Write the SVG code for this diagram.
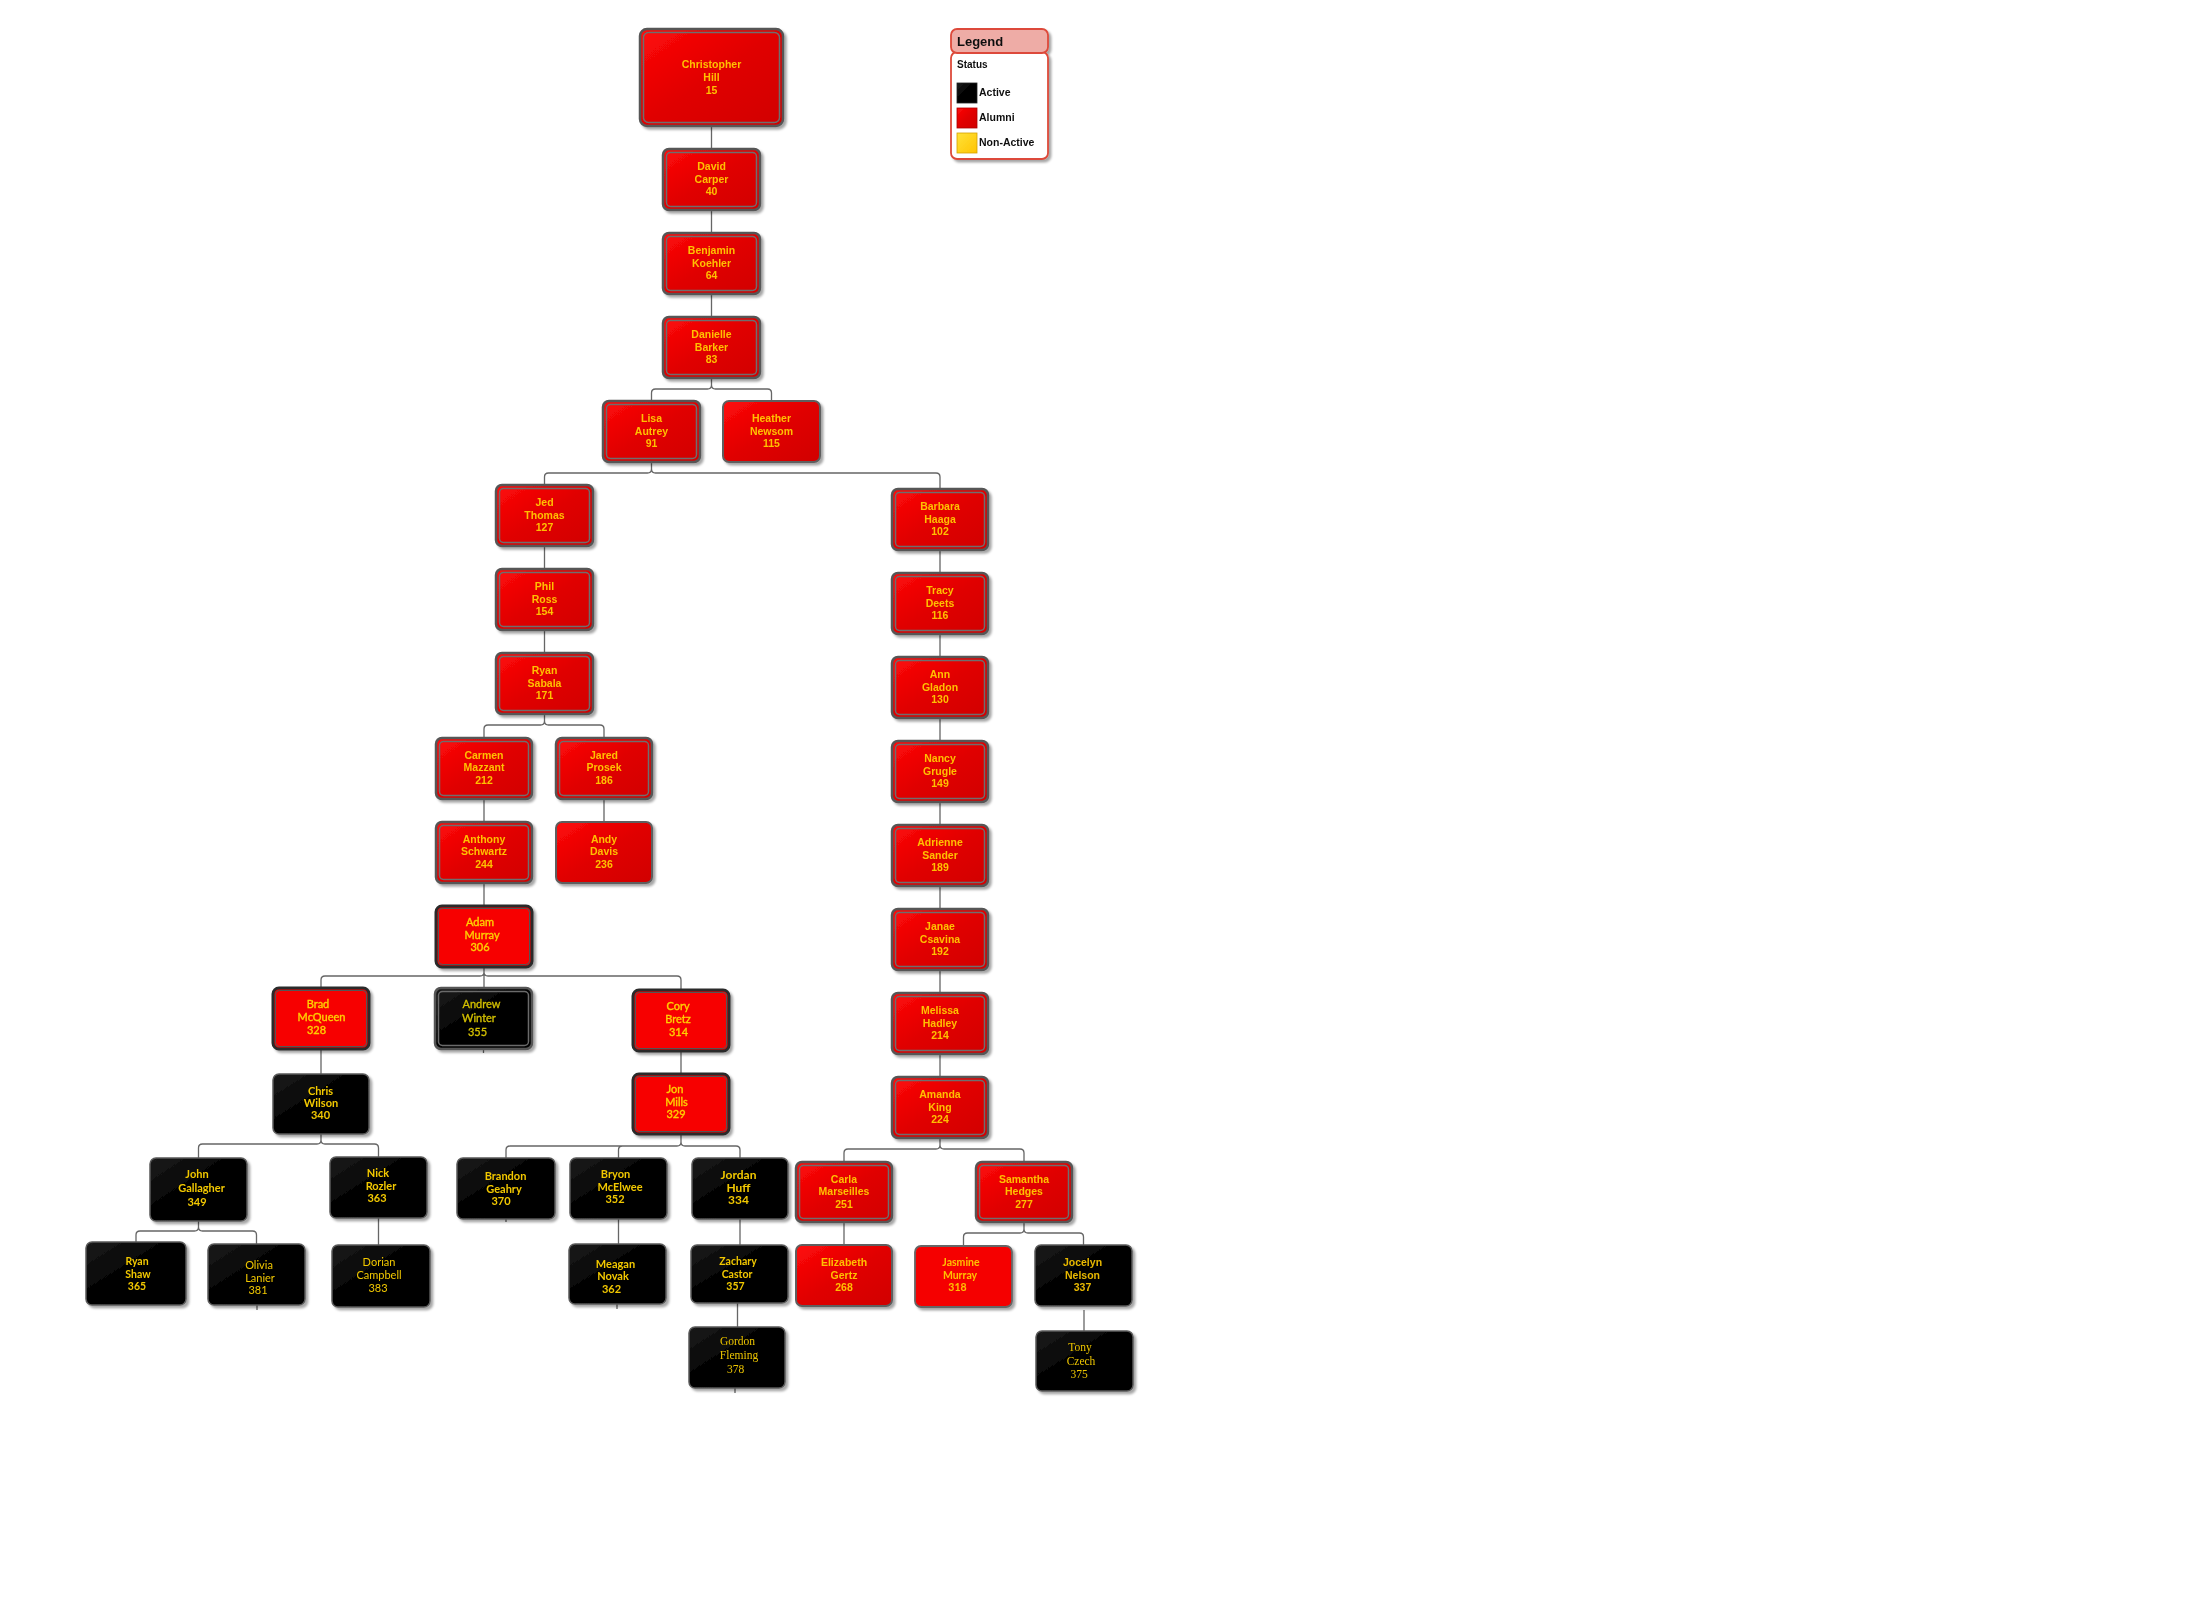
<svg xmlns="http://www.w3.org/2000/svg" width="2204" height="1602" viewBox="0 0 2204 1602">
<defs>
<linearGradient id="rg" x1="0" y1="0" x2="1" y2="1"><stop offset="0" stop-color="#ff0a0a"/><stop offset="0.5" stop-color="#e00000"/><stop offset="1" stop-color="#d10000"/></linearGradient>
<linearGradient id="bg" x1="0" y1="0" x2="1" y2="1"><stop offset="0" stop-color="#1c1c1c"/><stop offset="0.4" stop-color="#050505"/><stop offset="1" stop-color="#000"/></linearGradient>
<linearGradient id="yg" x1="0" y1="0" x2="1" y2="1"><stop offset="0" stop-color="#ffe23a"/><stop offset="1" stop-color="#ffc400"/></linearGradient>
<filter id="sh" x="-10%" y="-10%" width="130%" height="130%"><feDropShadow dx="2.5" dy="2.5" stdDeviation="1.3" flood-color="#000" flood-opacity="0.35"/></filter>
</defs>
<style>
.node{filter:url(#sh)}
.ra{fill:url(#rg);stroke:#575757;stroke-width:2.5}
.rs{fill:url(#rg);stroke:#5e5e5e;stroke-width:2}
.ri{fill:none;stroke:#6e6e6e;stroke-width:1.5}
.fr{fill:#f70404;stroke:#2a2a2a;stroke-width:3}
.fri{fill:none;stroke:#555;stroke-width:1}
.jr{fill:#f50606;stroke:#666;stroke-width:1.8}
.bk{fill:url(#bg);stroke:#5a5a5a;stroke-width:1.5}
.bki{fill:none;stroke:#6a6a6a;stroke-width:1.5}
.t{font-family:"Liberation Sans",Arial,sans-serif;font-size:10.5px;font-weight:bold;fill:#ffc000;text-anchor:middle}
.c{font-family:Lato,"Liberation Sans",sans-serif;font-size:11px;fill:#f2c800;text-anchor:middle}
.cm{fill:#ffd000;stroke:#ffd000;stroke-width:0.35}
.cb{font-weight:bold}
.s{font-family:"Liberation Serif","Times New Roman",serif;font-size:11.5px;fill:#ecc400;text-anchor:middle}
.lg{font-family:"Liberation Sans",Arial,sans-serif;font-weight:bold;fill:#111}
#connectors path{fill:none;stroke:#666;stroke-width:1.3}
</style>
<rect x="0" y="0" width="2204" height="1602" fill="#fff"/>

<g id="connectors">
<path d="M711.5,126 V149 M711.5,210 V233 M711.5,294 V317"/>
<path d="M711.5,378 V385 Q711.5,389 707.5,389 H655.5 Q651.5,389 651.5,393 V401 M711.5,385 Q711.5,389 715.5,389 H767.5 Q771.5,389 771.5,393 V401"/>
<path d="M651.5,462 V469 Q651.5,473 647.5,473 H548.5 Q544.5,473 544.5,477 V485 M651.5,469 Q651.5,473 655.5,473 H936 Q940,473 940,477 V489"/>
<path d="M544.5,546 V569 M544.5,630 V653"/>
<path d="M544.5,714 V721 Q544.5,725 540.5,725 H488 Q484,725 484,729 V738 M544.5,721 Q544.5,725 548.5,725 H600 Q604,725 604,729 V738"/>
<path d="M484,799 V822 M484,883 V906 M604,799 V822"/>
<path d="M484,967 V988 M484,972 Q484,976 480,976 H325 Q321,976 321,980 V988 M484,972 Q484,976 488,976 H677 Q681,976 681,980 V990"/>
<path d="M321,1049 V1074 M681,1051 V1074 M483.5,1049 V1053"/>
<path d="M321,1134 V1140 Q321,1144 317,1144 H202.5 Q198.5,1144 198.5,1148 V1158 M321,1140 Q321,1144 325,1144 H374.5 Q378.5,1144 378.5,1148 V1157"/>
<path d="M681,1134 V1142 Q681,1146 677,1146 H510 Q506,1146 506,1150 V1158 M622.5,1146 Q618.5,1146 618.5,1150 V1158 M681,1142 Q681,1146 685,1146 H736 Q740,1146 740,1150 V1158"/>
<path d="M198.5,1221 V1227 Q198.5,1231 194.5,1231 H140 Q136,1231 136,1235 V1242 M198.5,1227 Q198.5,1231 202.5,1231 H252.5 Q256.5,1231 256.5,1235 V1244"/>
<path d="M378.5,1218 V1245 M618.5,1219 V1244 M740,1219 V1245 M737.5,1303 V1327"/>
<path d="M506,1219 V1222 M257,1305 V1310 M617,1304 V1309 M735,1388 V1393"/>
<path d="M940,550 V573 M940,634 V657 M940,718 V741 M940,802 V825 M940,886 V909 M940,970 V993 M940,1054 V1077"/>
<path d="M940,1138 V1145 Q940,1149 936,1149 H848 Q844,1149 844,1153 V1162 M940,1145 Q940,1149 944,1149 H1020 Q1024,1149 1024,1153 V1162"/>
<path d="M844,1222 V1245"/>
<path d="M1024,1222 V1229 Q1024,1233 1020,1233 H967.5 Q963.5,1233 963.5,1237 V1246 M1024,1229 Q1024,1233 1028,1233 H1079.5 Q1083.5,1233 1083.5,1237 V1245"/>
<path d="M1084,1310 V1331"/>
</g>

<g id="n-christopher-hill" class="node"><rect class="ra" x="640" y="29" width="143" height="97" rx="7"/><rect class="ri" x="643.5" y="32.5" width="136" height="90" rx="5"/>
<text class="t"><tspan x="711.5" y="68">Christopher</tspan><tspan x="711.5" y="81">Hill</tspan><tspan x="711.5" y="94">15</tspan></text></g>

<g id="n-david-carper" class="node"><rect class="ra" x="663" y="149" width="97" height="61" rx="6"/><rect class="ri" x="666.5" y="152.5" width="90" height="54" rx="4"/>
<text class="t"><tspan x="711.5" y="170">David</tspan><tspan x="711.5" y="182.5">Carper</tspan><tspan x="711.5" y="195">40</tspan></text></g>

<g id="n-benjamin-koehler" class="node"><rect class="ra" x="663" y="233" width="97" height="61" rx="6"/><rect class="ri" x="666.5" y="236.5" width="90" height="54" rx="4"/>
<text class="t"><tspan x="711.5" y="254">Benjamin</tspan><tspan x="711.5" y="266.5">Koehler</tspan><tspan x="711.5" y="279">64</tspan></text></g>

<g id="n-danielle-barker" class="node"><rect class="ra" x="663" y="317" width="97" height="61" rx="6"/><rect class="ri" x="666.5" y="320.5" width="90" height="54" rx="4"/>
<text class="t"><tspan x="711.5" y="338">Danielle</tspan><tspan x="711.5" y="350.5">Barker</tspan><tspan x="711.5" y="363">83</tspan></text></g>

<g id="n-lisa-autrey" class="node"><rect class="ra" x="603" y="401" width="97" height="61" rx="6"/><rect class="ri" x="606.5" y="404.5" width="90" height="54" rx="4"/>
<text class="t"><tspan x="651.5" y="422">Lisa</tspan><tspan x="651.5" y="434.5">Autrey</tspan><tspan x="651.5" y="447">91</tspan></text></g>

<g id="n-heather-newsom" class="node"><rect class="rs" x="723" y="401" width="97" height="61" rx="6"/>
<text class="t"><tspan x="771.5" y="422">Heather</tspan><tspan x="771.5" y="434.5">Newsom</tspan><tspan x="771.5" y="447">115</tspan></text></g>

<g id="n-jed-thomas" class="node"><rect class="ra" x="496" y="485" width="97" height="61" rx="6"/><rect class="ri" x="499.5" y="488.5" width="90" height="54" rx="4"/>
<text class="t"><tspan x="544.5" y="506">Jed</tspan><tspan x="544.5" y="518.5">Thomas</tspan><tspan x="544.5" y="531">127</tspan></text></g>

<g id="n-phil-ross" class="node"><rect class="ra" x="496" y="569" width="97" height="61" rx="6"/><rect class="ri" x="499.5" y="572.5" width="90" height="54" rx="4"/>
<text class="t"><tspan x="544.5" y="590">Phil</tspan><tspan x="544.5" y="602.5">Ross</tspan><tspan x="544.5" y="615">154</tspan></text></g>

<g id="n-ryan-sabala" class="node"><rect class="ra" x="496" y="653" width="97" height="61" rx="6"/><rect class="ri" x="499.5" y="656.5" width="90" height="54" rx="4"/>
<text class="t"><tspan x="544.5" y="674">Ryan</tspan><tspan x="544.5" y="686.5">Sabala</tspan><tspan x="544.5" y="699">171</tspan></text></g>

<g id="n-carmen-mazzant" class="node"><rect class="ra" x="436" y="738" width="96" height="61" rx="6"/><rect class="ri" x="439.5" y="741.5" width="89" height="54" rx="4"/>
<text class="t"><tspan x="484" y="758.5">Carmen</tspan><tspan x="484" y="771">Mazzant</tspan><tspan x="484" y="783.5">212</tspan></text></g>

<g id="n-jared-prosek" class="node"><rect class="ra" x="556" y="738" width="96" height="61" rx="6"/><rect class="ri" x="559.5" y="741.5" width="89" height="54" rx="4"/>
<text class="t"><tspan x="604" y="758.5">Jared</tspan><tspan x="604" y="771">Prosek</tspan><tspan x="604" y="783.5">186</tspan></text></g>

<g id="n-anthony-schwartz" class="node"><rect class="ra" x="436" y="822" width="96" height="61" rx="6"/><rect class="ri" x="439.5" y="825.5" width="89" height="54" rx="4"/>
<text class="t"><tspan x="484" y="842.5">Anthony</tspan><tspan x="484" y="855">Schwartz</tspan><tspan x="484" y="867.5">244</tspan></text></g>

<g id="n-andy-davis" class="node"><rect class="rs" x="556" y="822" width="96" height="61" rx="6"/>
<text class="t"><tspan x="604" y="842.5">Andy</tspan><tspan x="604" y="855">Davis</tspan><tspan x="604" y="867.5">236</tspan></text></g>

<g id="n-adam-murray" class="node"><rect class="fr" x="436" y="906" width="96" height="61" rx="6"/><rect class="fri" x="438.5" y="908.5" width="91" height="56" rx="4"/>
<text class="c cm"><tspan x="480" y="925.5">Adam</tspan><tspan x="482" y="938.5">Murray</tspan><tspan x="480" y="951">306</tspan></text></g>

<g id="n-brad-mcqueen" class="node"><rect class="fr" x="273" y="988" width="96" height="61" rx="6"/><rect class="fri" x="275.5" y="990.5" width="91" height="56" rx="4"/>
<text class="c cm"><tspan x="318" y="1007.5">Brad</tspan><tspan x="321.5" y="1020.5">McQueen</tspan><tspan x="316.5" y="1033.5">328</tspan></text></g>

<g id="n-andrew-winter" class="node"><rect class="bk" x="435" y="988" width="97" height="61" rx="6" style="stroke:#555;stroke-width:2.5"/><rect class="bki" x="438.5" y="991.5" width="90" height="54" rx="4"/>
<text class="c" style="fill:#d4c000;stroke:#d4c000;stroke-width:0.3"><tspan x="481.5" y="1008">Andrew</tspan><tspan x="479" y="1021.5">Winter</tspan><tspan x="477.5" y="1035.5">355</tspan></text></g>

<g id="n-cory-bretz" class="node"><rect class="fr" x="633" y="990" width="96" height="61" rx="6"/><rect class="fri" x="635.5" y="992.5" width="91" height="56" rx="4"/>
<text class="c cm"><tspan x="678" y="1009.5">Cory</tspan><tspan x="678" y="1022.5">Bretz</tspan><tspan x="678.5" y="1035.5">314</tspan></text></g>

<g id="n-chris-wilson" class="node"><rect class="bk" x="273" y="1074" width="96" height="60" rx="6"/>
<text class="c cb"><tspan x="320.5" y="1094.5">Chris</tspan><tspan x="321" y="1107">Wilson</tspan><tspan x="320.5" y="1119">340</tspan></text></g>

<g id="n-jon-mills" class="node"><rect class="fr" x="633" y="1074" width="96" height="60" rx="6"/><rect class="fri" x="635.5" y="1076.5" width="91" height="55" rx="4"/>
<text class="c cm"><tspan x="675" y="1092.5">Jon</tspan><tspan x="676.5" y="1105.5">Mills</tspan><tspan x="676" y="1118">329</tspan></text></g>

<g id="n-john-gallagher" class="node"><rect class="bk" x="150" y="1158" width="97" height="63" rx="6"/>
<text class="c cb"><tspan x="197" y="1178">John</tspan><tspan x="201.5" y="1192">Gallagher</tspan><tspan x="197" y="1206">349</tspan></text></g>

<g id="n-nick-rozler" class="node"><rect class="bk" x="330" y="1157" width="97" height="61" rx="6"/>
<text class="c cb"><tspan x="378" y="1177">Nick</tspan><tspan x="381" y="1190">Rozler</tspan><tspan x="377" y="1202">363</tspan></text></g>

<g id="n-brandon-geahry" class="node"><rect class="bk" x="457" y="1158" width="98" height="61" rx="6"/>
<text class="c cb"><tspan x="505.5" y="1180">Brandon</tspan><tspan x="504" y="1193">Geahry</tspan><tspan x="501" y="1205">370</tspan></text></g>

<g id="n-bryon-mcelwee" class="node"><rect class="bk" x="570" y="1158" width="97" height="61" rx="6"/>
<text class="c cb"><tspan x="615.5" y="1178">Bryon</tspan><tspan x="620" y="1191">McElwee</tspan><tspan x="615" y="1203">352</tspan></text></g>

<g id="n-jordan-huff" class="node"><rect class="bk" x="692" y="1158" width="96" height="61" rx="6"/>
<text class="c cb" style="font-size:12px"><tspan x="738.5" y="1179">Jordan</tspan><tspan x="738.5" y="1191.5">Huff</tspan><tspan x="738.5" y="1204">334</tspan></text></g>

<g id="n-ryan-shaw" class="node"><rect class="bk" x="86" y="1242" width="100" height="63" rx="6"/>
<text class="c cb" style="font-size:10.5px"><tspan x="137" y="1265">Ryan</tspan><tspan x="138" y="1278">Shaw</tspan><tspan x="137" y="1290">365</tspan></text></g>

<g id="n-olivia-lanier" class="node"><rect class="bk" x="208" y="1244" width="97" height="61" rx="6"/>
<text class="c"><tspan x="259" y="1269">Olivia</tspan><tspan x="260" y="1282">Lanier</tspan><tspan x="258" y="1294">381</tspan></text></g>

<g id="n-dorian-campbell" class="node"><rect class="bk" x="332" y="1245" width="98" height="62" rx="6"/>
<text class="c"><tspan x="379" y="1266">Dorian</tspan><tspan x="379" y="1279">Campbell</tspan><tspan x="378" y="1292">383</tspan></text></g>

<g id="n-meagan-novak" class="node"><rect class="bk" x="569" y="1244" width="97" height="60" rx="6"/>
<text class="c cb"><tspan x="615.5" y="1268">Meagan</tspan><tspan x="613" y="1280">Novak</tspan><tspan x="611.5" y="1293">362</tspan></text></g>

<g id="n-zachary-castor" class="node"><rect class="bk" x="691" y="1245" width="97" height="58" rx="6"/>
<text class="c cb" style="font-size:10.5px"><tspan x="738" y="1265">Zachary</tspan><tspan x="737" y="1278">Castor</tspan><tspan x="735.5" y="1290">357</tspan></text></g>

<g id="n-gordon-fleming" class="node"><rect class="bk" x="689" y="1327" width="96" height="61" rx="6"/>
<text class="s"><tspan x="737.5" y="1345">Gordon</tspan><tspan x="739" y="1359">Fleming</tspan><tspan x="735.5" y="1373">378</tspan></text></g>

<g id="n-barbara-haaga" class="node"><rect class="ra" x="892" y="489" width="96" height="61" rx="6"/><rect class="ri" x="895.5" y="492.5" width="89" height="54" rx="4"/>
<text class="t"><tspan x="940" y="510">Barbara</tspan><tspan x="940" y="522.5">Haaga</tspan><tspan x="940" y="535">102</tspan></text></g>

<g id="n-tracy-deets" class="node"><rect class="ra" x="892" y="573" width="96" height="61" rx="6"/><rect class="ri" x="895.5" y="576.5" width="89" height="54" rx="4"/>
<text class="t"><tspan x="940" y="594">Tracy</tspan><tspan x="940" y="606.5">Deets</tspan><tspan x="940" y="619">116</tspan></text></g>

<g id="n-ann-gladon" class="node"><rect class="ra" x="892" y="657" width="96" height="61" rx="6"/><rect class="ri" x="895.5" y="660.5" width="89" height="54" rx="4"/>
<text class="t"><tspan x="940" y="678">Ann</tspan><tspan x="940" y="690.5">Gladon</tspan><tspan x="940" y="703">130</tspan></text></g>

<g id="n-nancy-grugle" class="node"><rect class="ra" x="892" y="741" width="96" height="61" rx="6"/><rect class="ri" x="895.5" y="744.5" width="89" height="54" rx="4"/>
<text class="t"><tspan x="940" y="762">Nancy</tspan><tspan x="940" y="774.5">Grugle</tspan><tspan x="940" y="787">149</tspan></text></g>

<g id="n-adrienne-sander" class="node"><rect class="ra" x="892" y="825" width="96" height="61" rx="6"/><rect class="ri" x="895.5" y="828.5" width="89" height="54" rx="4"/>
<text class="t"><tspan x="940" y="846">Adrienne</tspan><tspan x="940" y="858.5">Sander</tspan><tspan x="940" y="871">189</tspan></text></g>

<g id="n-janae-csavina" class="node"><rect class="ra" x="892" y="909" width="96" height="61" rx="6"/><rect class="ri" x="895.5" y="912.5" width="89" height="54" rx="4"/>
<text class="t"><tspan x="940" y="930">Janae</tspan><tspan x="940" y="942.5">Csavina</tspan><tspan x="940" y="955">192</tspan></text></g>

<g id="n-melissa-hadley" class="node"><rect class="ra" x="892" y="993" width="96" height="61" rx="6"/><rect class="ri" x="895.5" y="996.5" width="89" height="54" rx="4"/>
<text class="t"><tspan x="940" y="1014">Melissa</tspan><tspan x="940" y="1026.5">Hadley</tspan><tspan x="940" y="1039">214</tspan></text></g>

<g id="n-amanda-king" class="node"><rect class="ra" x="892" y="1077" width="96" height="61" rx="6"/><rect class="ri" x="895.5" y="1080.5" width="89" height="54" rx="4"/>
<text class="t"><tspan x="940" y="1098">Amanda</tspan><tspan x="940" y="1110.5">King</tspan><tspan x="940" y="1123">224</tspan></text></g>

<g id="n-carla-marseilles" class="node"><rect class="ra" x="796" y="1162" width="96" height="60" rx="6"/><rect class="ri" x="799.5" y="1165.5" width="89" height="53" rx="4"/>
<text class="t"><tspan x="844" y="1182.5">Carla</tspan><tspan x="844" y="1195">Marseilles</tspan><tspan x="844" y="1207.5">251</tspan></text></g>

<g id="n-samantha-hedges" class="node"><rect class="ra" x="976" y="1162" width="96" height="60" rx="6"/><rect class="ri" x="979.5" y="1165.5" width="89" height="53" rx="4"/>
<text class="t"><tspan x="1024" y="1182.5">Samantha</tspan><tspan x="1024" y="1195">Hedges</tspan><tspan x="1024" y="1207.5">277</tspan></text></g>

<g id="n-elizabeth-gertz" class="node"><rect class="rs" x="796" y="1245" width="96" height="61" rx="6"/>
<text class="t"><tspan x="844" y="1266">Elizabeth</tspan><tspan x="844" y="1278.5">Gertz</tspan><tspan x="844" y="1291">268</tspan></text></g>

<g id="n-jasmine-murray" class="node"><rect class="jr" x="915" y="1246" width="97" height="61" rx="6"/>
<text class="c cb" style="font-size:10.5px;fill:#ffc000"><tspan x="961" y="1266">Jasmine</tspan><tspan x="960" y="1279">Murray</tspan><tspan x="957.5" y="1291">318</tspan></text></g>

<g id="n-jocelyn-nelson" class="node"><rect class="bk" x="1035" y="1245" width="97" height="61" rx="6"/>
<text class="t" style="fill:#e8b800"><tspan x="1082.5" y="1266">Jocelyn</tspan><tspan x="1082.5" y="1279">Nelson</tspan><tspan x="1082.5" y="1291">337</tspan></text></g>

<g id="n-tony-czech" class="node"><rect class="bk" x="1036" y="1331" width="97" height="60" rx="6"/>
<text class="s"><tspan x="1080" y="1351">Tony</tspan><tspan x="1081" y="1364.5">Czech</tspan><tspan x="1079" y="1378">375</tspan></text></g>

<g id="legend" class="node">
<rect x="951" y="52" width="97" height="107" rx="6" fill="#fff" stroke="#dd4a3a" stroke-width="1.8"/>
<rect x="951" y="29" width="97" height="24" rx="6" fill="#eeaca6" stroke="#dd4a3a" stroke-width="1.8"/>
<text class="lg" x="957" y="45.5" font-size="13">Legend</text>
<text class="lg" x="957" y="68" font-size="10">Status</text>
<rect x="957" y="83" width="20" height="20" fill="url(#bg)" stroke="#222" stroke-width="0.8"/>
<text class="lg" x="979" y="95.5" font-size="10.5">Active</text>
<rect x="957" y="108" width="20" height="20" fill="url(#rg)" stroke="#a00" stroke-width="0.8"/>
<text class="lg" x="979" y="120.5" font-size="10.5">Alumni</text>
<rect x="957" y="133" width="20" height="20" fill="url(#yg)" stroke="#d4a000" stroke-width="0.8"/>
<text class="lg" x="979" y="145.5" font-size="10.5">Non-Active</text>
</g>
</svg>
